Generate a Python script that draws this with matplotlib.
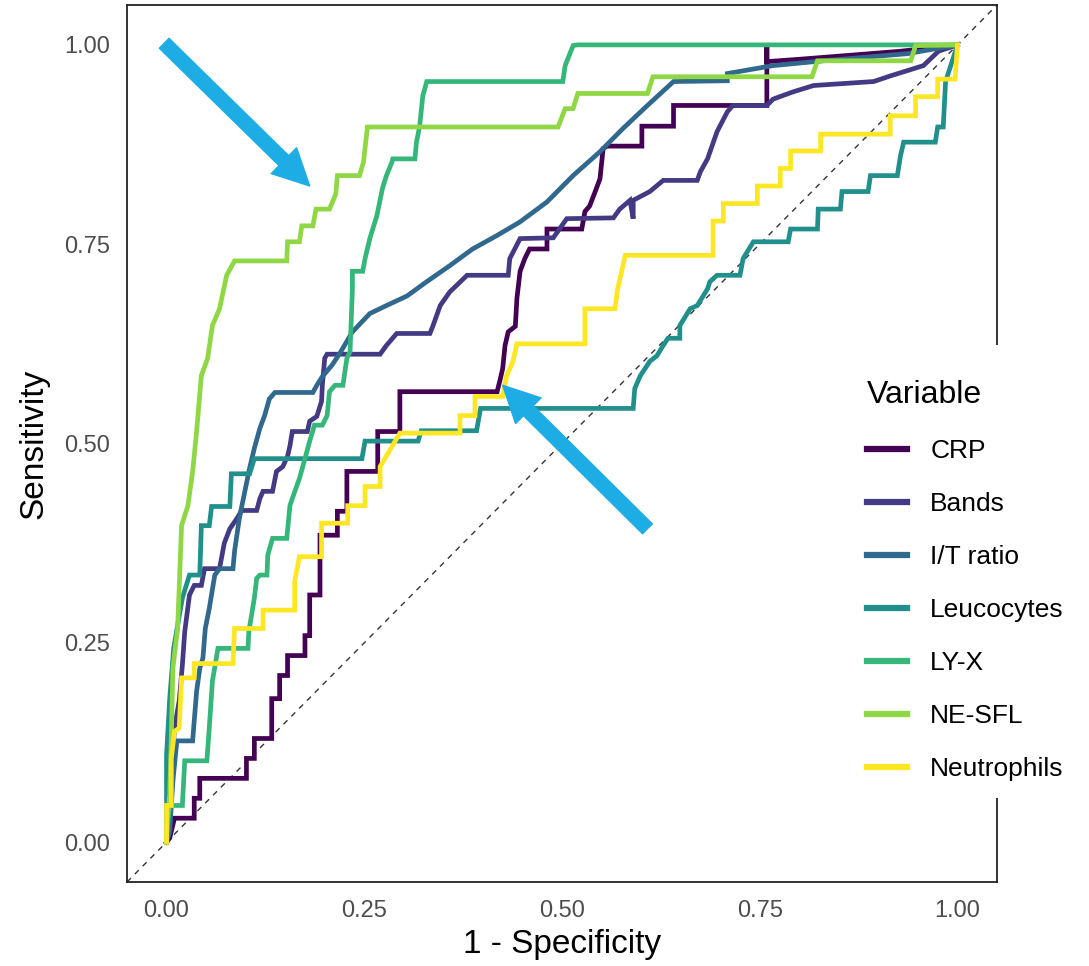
import numpy as np
import matplotlib.pyplot as plt
from matplotlib.patches import FancyArrowPatch, Rectangle

plt.rcParams['font.family'] = ['Liberation Sans', 'DejaVu Sans']

# ROC curves (1 - specificity, sensitivity)
crp_fpr = [0, 0.004, 0.010, 0.035, 0.035, 0.042, 0.042, 0.101, 0.101, 0.111, 0.111, 0.133, 0.133, 0.143, 0.143,
           0.153, 0.153, 0.175, 0.175, 0.181, 0.181, 0.194, 0.194, 0.216, 0.216, 0.228, 0.228, 0.267, 0.267,
           0.295, 0.295, 0.418, 0.422, 0.425, 0.428, 0.432, 0.441, 0.443, 0.447, 0.453, 0.459, 0.481, 0.481,
           0.525, 0.529, 0.535, 0.542, 0.548, 0.552, 0.557, 0.601, 0.601, 0.641, 0.641, 0.759, 0.759, 0.759,
           0.801, 0.852, 0.928, 1.0]
crp_tpr = [0, 0.005, 0.030, 0.030, 0.055, 0.055, 0.080, 0.080, 0.105, 0.105, 0.130, 0.130, 0.180, 0.180, 0.209,
           0.209, 0.234, 0.234, 0.259, 0.259, 0.310, 0.310, 0.385, 0.385, 0.415, 0.415, 0.465, 0.465, 0.515,
           0.515, 0.565, 0.565, 0.581, 0.594, 0.623, 0.640, 0.647, 0.682, 0.716, 0.732, 0.744, 0.744, 0.769,
           0.769, 0.791, 0.798, 0.816, 0.832, 0.870, 0.873, 0.873, 0.898, 0.898, 0.924, 0.924, 1.0, 0.979,
           0.982, 0.986, 0.992, 1.0]

bands_fpr = [0, 0.004, 0.006, 0.010, 0.016, 0.020, 0.023, 0.029, 0.035, 0.044, 0.048, 0.067, 0.073, 0.080, 0.089,
             0.095, 0.114, 0.118, 0.122, 0.134, 0.139, 0.147, 0.153, 0.156, 0.159, 0.178, 0.181, 0.190, 0.196,
             0.197, 0.200, 0.203, 0.270, 0.278, 0.291, 0.333, 0.337, 0.346, 0.358, 0.380, 0.432, 0.434, 0.447,
             0.489, 0.506, 0.565, 0.573, 0.586, 0.590, 0.590, 0.611, 0.628, 0.671, 0.675, 0.684, 0.696, 0.709,
             0.716, 0.759, 0.767, 0.792, 0.818, 0.894, 0.915, 0.957, 0.976, 1.0]
bands_tpr = [0, 0.014, 0.080, 0.143, 0.177, 0.222, 0.264, 0.310, 0.322, 0.322, 0.343, 0.343, 0.375, 0.393, 0.406,
             0.416, 0.416, 0.431, 0.440, 0.440, 0.465, 0.471, 0.484, 0.497, 0.515, 0.515, 0.528, 0.534, 0.553,
             0.573, 0.607, 0.612, 0.612, 0.623, 0.638, 0.638, 0.648, 0.673, 0.690, 0.711, 0.711, 0.732, 0.757,
             0.758, 0.782, 0.783, 0.794, 0.805, 0.782, 0.805, 0.816, 0.830, 0.830, 0.841, 0.857, 0.891, 0.916,
             0.924, 0.924, 0.932, 0.941, 0.949, 0.954, 0.961, 0.974, 0.992, 1.0]

it_fpr = [0, 0.004, 0.008, 0.013, 0.033, 0.035, 0.038, 0.042, 0.046, 0.049, 0.054, 0.061, 0.067, 0.084, 0.086,
          0.092, 0.099, 0.105, 0.111, 0.118, 0.124, 0.130, 0.137, 0.185, 0.190, 0.197, 0.209, 0.219, 0.235,
          0.257, 0.278, 0.304, 0.329, 0.358, 0.387, 0.418, 0.447, 0.481, 0.514, 0.548, 0.577, 0.608, 0.641,
          0.709, 0.709, 0.767, 0.830, 0.937, 1.0]
it_tpr = [0, 0.014, 0.076, 0.127, 0.127, 0.152, 0.189, 0.218, 0.231, 0.268, 0.293, 0.335, 0.343, 0.343, 0.365,
          0.406, 0.440, 0.469, 0.494, 0.519, 0.535, 0.556, 0.564, 0.564, 0.573, 0.584, 0.598, 0.613, 0.640,
          0.663, 0.673, 0.685, 0.703, 0.723, 0.744, 0.761, 0.778, 0.803, 0.836, 0.866, 0.895, 0.924, 0.954,
          0.955, 0.964, 0.974, 0.980, 0.989, 1.0]

leuco_fpr = [0, 0, 0, 0.004, 0.009, 0.014, 0.020, 0.029, 0.042, 0.044, 0.054, 0.057, 0.080, 0.082, 0.105, 0.111,
             0.247, 0.251, 0.318, 0.322, 0.392, 0.397, 0.590, 0.592, 0.599, 0.611, 0.620, 0.628, 0.634, 0.649,
             0.649, 0.662, 0.671, 0.684, 0.687, 0.696, 0.725, 0.729, 0.742, 0.786, 0.789, 0.823, 0.824, 0.852,
             0.854, 0.887, 0.890, 0.924, 0.928, 0.932, 0.972, 0.975, 0.982, 0.985, 1.0]
leuco_tpr = [0, 0.059, 0.109, 0.180, 0.243, 0.272, 0.306, 0.335, 0.335, 0.397, 0.397, 0.421, 0.421, 0.462, 0.462,
             0.481, 0.481, 0.503, 0.503, 0.516, 0.516, 0.544, 0.544, 0.569, 0.585, 0.603, 0.610, 0.623, 0.632,
             0.632, 0.648, 0.669, 0.673, 0.694, 0.703, 0.711, 0.711, 0.732, 0.753, 0.753, 0.769, 0.769, 0.794,
             0.794, 0.816, 0.816, 0.836, 0.836, 0.861, 0.878, 0.878, 0.897, 0.897, 0.954, 1.0]

lyx_fpr = [0, 0.001, 0.004, 0.020, 0.023, 0.051, 0.054, 0.058, 0.065, 0.103, 0.104, 0.111, 0.114, 0.118, 0.127,
           0.128, 0.134, 0.152, 0.156, 0.159, 0.168, 0.175, 0.181, 0.187, 0.197, 0.203, 0.206, 0.213, 0.223,
           0.228, 0.232, 0.235, 0.235, 0.248, 0.251, 0.257, 0.266, 0.273, 0.278, 0.285, 0.286, 0.314, 0.316,
           0.320, 0.324, 0.329, 0.501, 0.504, 0.514, 0.519, 1.0]
lyx_tpr = [0, 0.018, 0.046, 0.046, 0.102, 0.102, 0.143, 0.202, 0.243, 0.243, 0.264, 0.306, 0.331, 0.335, 0.335,
           0.360, 0.381, 0.381, 0.422, 0.431, 0.456, 0.481, 0.503, 0.523, 0.523, 0.535, 0.565, 0.573, 0.573,
           0.607, 0.615, 0.694, 0.716, 0.716, 0.732, 0.757, 0.786, 0.820, 0.836, 0.853, 0.857, 0.857, 0.878,
           0.898, 0.936, 0.954, 0.954, 0.974, 0.999, 1.0, 1.0]

nesfl_fpr = [0, 0.001, 0.004, 0.006, 0.008, 0.014, 0.019, 0.027, 0.033, 0.038, 0.044, 0.052, 0.058, 0.067, 0.076,
             0.086, 0.152, 0.153, 0.168, 0.171, 0.185, 0.189, 0.206, 0.214, 0.216, 0.244, 0.249, 0.254, 0.495,
             0.504, 0.514, 0.520, 0.608, 0.615, 0.816, 0.823, 0.941, 0.947, 1.0]
nesfl_tpr = [0, 0.030, 0.059, 0.130, 0.218, 0.268, 0.397, 0.422, 0.465, 0.515, 0.585, 0.607, 0.648, 0.669, 0.711,
             0.729, 0.729, 0.753, 0.753, 0.773, 0.773, 0.794, 0.794, 0.813, 0.836, 0.836, 0.853, 0.897, 0.897,
             0.920, 0.920, 0.939, 0.939, 0.960, 0.960, 0.980, 0.980, 0.999, 1.0]

neut_fpr = [0, 0, 0.006, 0.006, 0.010, 0.016, 0.019, 0.035, 0.035, 0.084, 0.086, 0.122, 0.122, 0.162, 0.162,
            0.168, 0.196, 0.196, 0.229, 0.229, 0.251, 0.251, 0.270, 0.270, 0.282, 0.295, 0.371, 0.371, 0.390,
            0.390, 0.425, 0.430, 0.438, 0.443, 0.529, 0.529, 0.567, 0.570, 0.580, 0.691, 0.691, 0.704, 0.704,
            0.747, 0.747, 0.776, 0.776, 0.789, 0.789, 0.827, 0.827, 0.915, 0.915, 0.947, 0.947, 0.975, 0.975,
            0.997, 1.0]
neut_tpr = [0, 0.046, 0.046, 0.105, 0.139, 0.143, 0.206, 0.206, 0.224, 0.224, 0.268, 0.268, 0.291, 0.291, 0.327,
            0.358, 0.358, 0.400, 0.400, 0.422, 0.422, 0.446, 0.446, 0.471, 0.491, 0.513, 0.513, 0.535, 0.535,
            0.559, 0.559, 0.585, 0.603, 0.625, 0.625, 0.669, 0.669, 0.692, 0.736, 0.736, 0.779, 0.779, 0.801,
            0.801, 0.823, 0.823, 0.845, 0.845, 0.867, 0.867, 0.888, 0.888, 0.911, 0.911, 0.935, 0.935, 0.957,
            0.957, 1.0]

labels = ['CRP', 'Bands', 'I/T ratio', 'Leucocytes', 'LY-X', 'NE-SFL', 'Neutrophils']
colors = ['#440154', '#443A83', '#31688E', '#21908C', '#35B779', '#8FD744', '#FDE725']
curves = [(crp_fpr, crp_tpr), (bands_fpr, bands_tpr), (it_fpr, it_tpr), (leuco_fpr, leuco_tpr),
          (lyx_fpr, lyx_tpr), (nesfl_fpr, nesfl_tpr), (neut_fpr, neut_tpr)]
ticks = [0, 0.25, 0.5, 0.75, 1.0]

fig = plt.figure(figsize=(10.89, 9.66), dpi=100)
ax = fig.add_axes([127 / 1089, 1 - 882 / 966, 870 / 1089, 877 / 966])

ax.axline((0, 0), slope=1, color='#333333', lw=1.0, ls=(0, (4, 4)), zorder=1)
for (fx, ty), lab, col in zip(curves, labels, colors):
    ax.plot(fx, ty, color=col, lw=3.4, label=lab, solid_joinstyle='miter')

ax.set_xlim(-0.05, 1.05)
ax.set_ylim(-0.05, 1.05)
ax.set_xticks(ticks)
ax.set_yticks(ticks)
ax.set_xticklabels(['%.2f' % t for t in ticks])
ax.set_yticklabels(['%.2f' % t for t in ticks])
ax.tick_params(colors='#4D4D4D', labelsize=17, length=0)
ax.tick_params(axis='x', pad=13)
ax.tick_params(axis='y', pad=12)
for s in ax.spines.values():
    s.set_color('#222222')
    s.set_linewidth(1.3)

ax.set_xlabel('1 - Specificity', fontsize=24, labelpad=5)
ax.set_ylabel('Sensitivity', fontsize=24, labelpad=11)

# white legend background that hides part of the right border
ax.add_patch(Rectangle((845 / 1089, 1 - 798 / 966), 244 / 1089, 453 / 966, transform=fig.transFigure,
                       facecolor='white', edgecolor='none', clip_on=False, zorder=4))
leg = ax.legend(title='Variable', loc='upper left', bbox_to_anchor=(867 / 1089, 1 - 380 / 966),
                bbox_transform=fig.transFigure, borderaxespad=0, fontsize=19, title_fontsize=23,
                frameon=False, handlelength=1.5, handletextpad=0.9, labelspacing=1.1, borderpad=0,
                alignment='left')
leg.set_zorder(5)
for h in leg.get_lines():
    h.set_linewidth(4.5)

# the two highlight arrows
arrow_color = '#1DADE4'
for tail, tip in [((-0.003, 1.002), (0.181, 0.823)), ((0.608, 0.393), (0.425, 0.573))]:
    ar = FancyArrowPatch(tail, tip, arrowstyle='simple,head_width=26,head_length=26,tail_width=10',
                         mutation_scale=1, color=arrow_color, shrinkA=0, shrinkB=0, zorder=6)
    ax.add_patch(ar)

plt.savefig('out.png', dpi=100)
